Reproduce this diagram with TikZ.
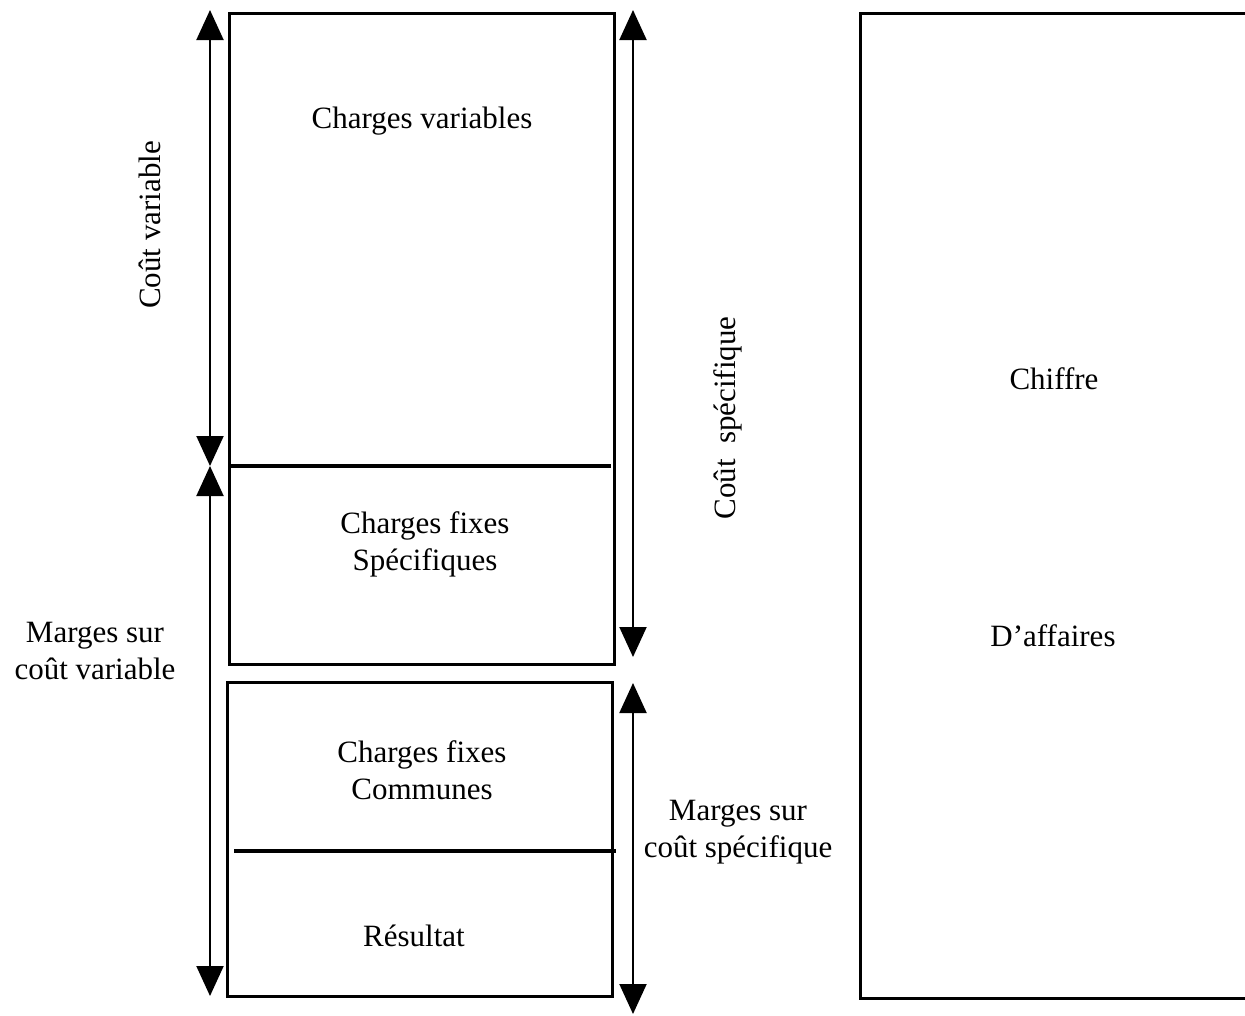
\documentclass[tikz,border=0pt]{standalone}
\usepackage{fontspec}
\setmainfont{Liberation Serif}
\usetikzlibrary{arrows.meta}
\begin{document}
\begin{tikzpicture}[x=1pt,y=-1pt,
  box/.style={draw, line width=3pt, inner sep=0pt},
  sep/.style={line width=4.5pt},
  dim/.style={line width=2pt, {Triangle[width=27pt,length=30pt]}-{Triangle[width=27pt,length=30pt]}},
  lbl/.style={font=\fontsize{31}{37}\selectfont, align=center, inner sep=0pt}]
\useasboundingbox (0,0) rectangle (1245,1015);
\node[box, minimum width=385pt, minimum height=651pt] (b1) at (421.5,338.5) {};
\node[box, minimum width=385pt, minimum height=314pt] (b2) at (419.5,839) {};
\coordinate (l1a) at (229,466); \coordinate (l1b) at (611,466);
\draw[sep] (l1a) -- (l1b);
\coordinate (l2a) at (234,851); \coordinate (l2b) at (616,851);
\draw[sep] (l2a) -- (l2b);
% right large box
\coordinate (r1) at (1250,13); \coordinate (r2) at (860,13);
\coordinate (r3) at (860,998); \coordinate (r4) at (1250,998);
\draw[line width=3pt] (r1) -- (r2) -- (r3) -- (r4);
% dimension arrows
\coordinate (a1t) at (210,10); \coordinate (a1b) at (210,466);
\coordinate (a2t) at (210,466); \coordinate (a2b) at (210,996);
\coordinate (a3t) at (633,10); \coordinate (a3b) at (633,657);
\coordinate (a4t) at (633,683); \coordinate (a4b) at (633,1014);
\draw[dim] (a1t) -- (a1b);
\draw[dim] (a2t) -- (a2b);
\draw[dim] (a3t) -- (a3b);
\draw[dim] (a4t) -- (a4b);
% texts
\node[lbl] (t1) at (422,121) {Charges variables};
\node[lbl] (t2) at (425,544) {Charges fixes\\Spécifiques};
\node[lbl] (t3) at (422,770) {Charges fixes\\Communes};
\node[lbl] (t4) at (414,936) {Résultat};
\node[lbl, rotate=90] (t5) at (150,225) {Coût variable};
\node[lbl, rotate=90] (t6) at (728,418) {Coût\ \ spécifique};
\node[lbl] (t7) at (95,651) {Marges sur\\coût variable};
\node[lbl] (t8) at (738,832) {Marges sur\\coût spécifique};
\node[lbl] (t9) at (1054,379) {Chiffre};
\node[lbl] (t10) at (1053,636) {D’affaires};
\end{tikzpicture}
\end{document}
